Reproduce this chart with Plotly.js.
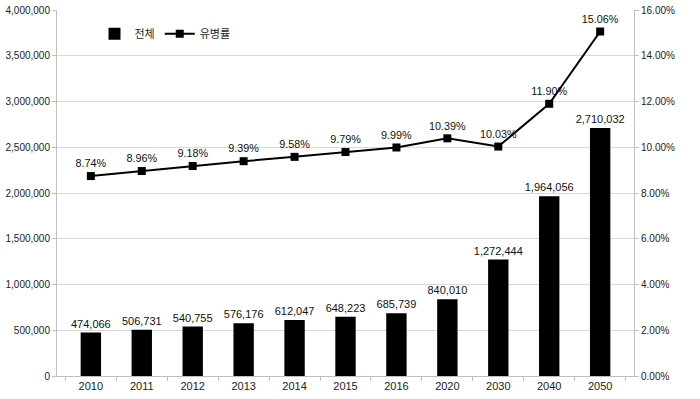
<!DOCTYPE html>
<html>
<head>
<meta charset="utf-8">
<script src="https://cdn.plot.ly/plotly-3.0.1.min.js"></script>
<style>html,body{margin:0;padding:0;background:#fff}#chart{width:700px;height:399px}</style>
</head>
<body>
<div id="chart"></div>
<script>
const categories = ['2010','2011','2012','2013','2014','2015','2016','2020','2030','2040','2050'];
const totals = [474066, 506731, 540755, 576176, 612047, 648223, 685739, 840010, 1272444, 1964056, 2710032];
const rates = [0.0874, 0.0896, 0.0918, 0.0939, 0.0958, 0.0979, 0.0999, 0.1039, 0.1003, 0.1190, 0.1506];

const fontFam = 'Liberation Sans, Arial, "Noto Sans CJK KR", sans-serif';

const data = [
  {
    type: 'bar', name: '전체', x: categories, y: totals,
    marker: {color: '#000000'},
    width: 0.4,
    text: totals.map(v => v.toLocaleString('en-US')),
    textposition: 'outside', cliponaxis: false, constraintext: 'none',
    textfont: {family: fontFam, size: 11, color: '#111'}
  },
  {
    type: 'scatter', mode: 'lines+markers+text', name: '유병률', x: categories, y: rates,
    yaxis: 'y2',
    line: {color: '#000000', width: 2},
    marker: {symbol: 'square', size: 8, color: '#000000'},
    text: rates.map(v => (v*100).toFixed(2) + '%'),
    textposition: 'top center', cliponaxis: false,
    textfont: {family: fontFam, size: 10.8, color: '#111'}
  }
];

const layout = {
  width: 700, height: 399,
  margin: {l: 57, r: 66, t: 10, b: 23},
  paper_bgcolor: '#fff', plot_bgcolor: '#fff',
  font: {family: fontFam, size: 10, color: '#222'},
  showlegend: true,
  legend: {orientation: 'h', x: 0.065, y: 0.975, xanchor: 'left', yanchor: 'top',
           font: {family: '"Noto Sans CJK KR", sans-serif', size: 11, color: '#222'},
           bgcolor: 'rgba(0,0,0,0)', itemwidth: 30, tracegroupgap: 0},
  xaxis: {
    type: 'category', showgrid: false, showline: true, linecolor: '#bfbfbf', linewidth: 1,
    ticks: 'outside', tickson: 'boundaries', ticklen: 4, tickcolor: '#bfbfbf',
    tickfont: {size: 11, color: '#222'}, fixedrange: true
  },
  yaxis: {
    range: [0, 4000000], dtick: 500000, tickformat: ',', showgrid: true, gridcolor: '#d9d9d9',
    showline: true, linecolor: '#bfbfbf', ticks: 'outside', ticklen: 4, tickcolor: '#bfbfbf',
    zeroline: false, tickfont: {size: 10, color: '#222'}
  },
  yaxis2: {
    overlaying: 'y', side: 'right', range: [0, 0.16], dtick: 0.02, tickformat: '.2%',
    showgrid: false, showline: true, linecolor: '#bfbfbf', ticks: 'outside', ticklen: 4, tickcolor: '#bfbfbf',
    zeroline: false, tickfont: {size: 10, color: '#222'}
  },
  bargap: 0.6
};

Plotly.newPlot('chart', data, layout, {displayModeBar: false, staticPlot: true});
</script>
</body>
</html>
